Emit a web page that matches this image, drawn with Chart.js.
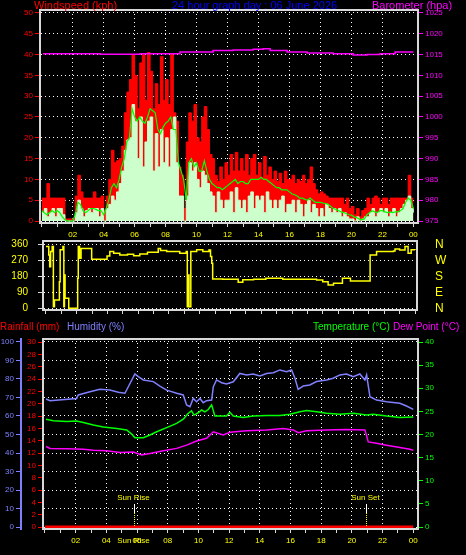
<!DOCTYPE html>
<html>
<head>
<meta charset="utf-8">
<title>24 hour graph</title>
<script src="https://cdn.jsdelivr.net/npm/chart.js@4.4.1/dist/chart.umd.min.js"></script>
<style>
  html, body { margin: 0; padding: 0; background: #000; }
  body { width: 466px; height: 555px; position: relative; overflow: hidden; }
  canvas { position: absolute; left: 0; }
</style>
</head>
<body>
<canvas id="windChart" width="466" height="248" style="top:0"></canvas>
<canvas id="dirChart" width="466" height="82" style="top:236px"></canvas>
<canvas id="climateChart" width="466" height="237" style="top:318px"></canvas>
<script>
/**
 * 24 hour weather graph
 *
 * Three stacked panels: wind + barometer, wind direction,
 * and rainfall / humidity / temperature / dew point.
 */

// ---- data ----------------------------------------------------------------

const hourTicks = [0, 1, 2, 3, 4, 5, 6, 7, 8, 9, 10, 11, 12, 13, 14, 15, 16, 17, 18, 19, 20, 21, 22, 23, 24];
const windTicks = [0, 5, 10, 15, 20, 25, 30, 35, 40, 45, 50];
const baroTicks = [975, 980, 985, 990, 995, 1000, 1005, 1010, 1015, 1020, 1025];
const dirTicks = [0, 90, 180, 270, 360];
const compassLabels = ['N', 'E', 'S', 'W', 'N'];
const rainTicks = [0, 2, 4, 6, 8, 10, 12, 14, 16, 18, 20, 22, 24, 26, 28, 30];
const humTicks = [0, 10, 20, 30, 40, 50, 60, 70, 80, 90, 100];
const tempTicks = [0, 5, 10, 15, 20, 25, 30, 35, 40];

// wind, one reading every 10 minutes from 00:00 to 24:00 (kph)
const windGust = [
  5.5, 5.5, 9, 5.5, 5.5, 5.5,   5.5, 5.5, 5.5, 0.5, 0.5, 0.5,
  0.5, 6, 11, 7, 5.5, 5.5,      5.5, 5.5, 7, 5.5, 5.5, 6,
  2.5, 6, 10, 17, 14, 14.5,     15, 18, 26, 31, 34, 40,
  35, 27, 38, 40, 29, 40.5,     36, 27, 33, 28, 39.5, 29,
  34, 28, 40, 26, 24, 13,       11, 3, 19, 26, 24, 28,
  20, 19, 25, 27.5, 22, 16,     15, 11, 9.5, 13, 10, 14,
  11, 16, 12, 16.5, 12, 15,     12, 16, 11, 15, 16, 11,
  14, 10.5, 15.5, 11, 13, 10,   12, 9.5, 11.5, 9, 12, 10,
  10, 11, 9, 10, 9.5, 11,       9, 10, 13, 9, 7.5, 6.5,
  7, 6.5, 6, 5.5, 5.5, 5.5,     5.5, 5.5, 5.5, 4, 5.5, 3,
  3.5, 1.5, 3, 1, 2.5, 3,       5.5, 4, 5.5, 6, 5.5, 4,
  5.5, 5.5, 4, 5.5, 5.5, 5.5,   5.5, 5.5, 5.5, 5.5, 11, 5.5,
  5.5
];
const windSpeed = [
  2, 3, 1, 2, 3, 1,             3, 3, 1.5, 0, 0, 0,
  0, 2, 5, 3, 1, 2.5,           3, 2, 3, 3, 1, 3,
  0, 3, 4, 6, 5, 7,             9, 12, 17, 19.5, 20, 28,
  24, 15, 25, 13, 19, 24,       25, 12, 21, 13, 22, 14,
  20, 13, 22, 25, 14, 6,        6, 0, 6, 14, 12, 14,
  10, 8, 12, 11, 9, 7,          6, 2, 7, 5, 3, 5,
  5, 7, 2, 8, 5, 3,             5, 2, 6, 7, 3, 6,
  5, 6, 2, 7, 5, 3,             5, 3, 5, 6, 2, 4,
  4, 5, 2, 5, 4, 1,             4, 5, 2, 4, 3, 1,
  3, 1, 4, 3, 2, 3,             2, 3, 1, 2, 1, 0.5,
  0.5, 0, 1, 0, 0.5, 1,         1, 2, 3, 1, 2, 3,
  2, 3, 1, 2, 3, 1,             2, 3, 4, 5, 6, 3,
  2
];
const windAverage = [
  2.5, 2, 1.5, 2, 2.5, 2,       2.5, 2, 1, 0.3, 0, 0,
  0, 1.5, 4.5, 4, 2.5, 2,       2.5, 3, 3, 2.8, 2.5, 2.5,
  1.5, 3, 5, 8, 9, 8,           10, 13, 15, 19, 20, 27,
  25, 24, 25, 24, 23.5, 25,     27, 26.5, 26, 22, 21, 22.5,
  23.5, 24, 25, 22, 22, 14,     12, 10, 5, 14, 15, 13,
  14, 12, 12, 14.5, 12, 10,     9, 8.5, 8, 8, 7.5, 8,
  8.5, 9, 9.5, 10, 9, 9.5,      9.5, 9, 9, 10, 10, 10,
  10, 10.5, 10, 10, 9.5, 9,     8.5, 8, 8, 7.5, 7.5, 7.5,
  7, 6.5, 6.3, 6, 5.5, 5.5,     5.2, 5, 5.5, 5, 4.5, 4.5,
  4.5, 4.3, 4.2, 4, 3.5, 3,     2.8, 2.5, 2.2, 2, 1.8, 1.5,
  1.4, 1, 0.8, 0.5, 0.3, 0.5,   1.5, 2, 2.5, 2.2, 2, 2.5,
  2.5, 2.2, 2, 2.2, 2, 2.2,     2.2, 2.5, 3, 4.5, 5.5, 5,
  3
];
const windHours = windGust.map((_, i) => i / 6);

const baroHours = [0.08, 3.77, 6.35, 8.93, 10.23, 11.07, 12.36, 13.65, 14.3, 14.75, 15.85, 17.14, 18.82, 20.11, 21.01, 21.85, 22.82, 24];
const baroValues = [1015.2, 1015.1, 1015.2, 1015.6, 1015.6, 1016.0, 1016.1, 1016.3, 1016.4, 1016.0, 1015.6, 1015.4, 1015.2, 1014.9, 1015.0, 1015.2, 1015.6, 1015.6];

const dirHours = [0, 0.18, 0.24, 0.3, 0.4, 0.48, 0.55, 0.87, 0.92, 1.1, 1.16, 1.2, 1.24, 1.48, 2.06, 2.1, 2.18, 2.28, 2.97, 3.97,
  4.15, 4.4, 4.8, 5.3, 5.7, 6.1, 6.6, 7.3, 7.45, 7.85, 8.3, 8.7, 9.12, 9.19, 9.24, 9.3, 9.42, 9.8, 10.2, 10.6,
  10.7, 10.78, 10.84, 11.5, 12.5, 12.8, 13.5, 14.3, 15.4, 16.5, 17.6, 18.0, 18.35, 18.7, 19.2, 19.28, 19.8, 21.08, 21.5, 22.6,
  22.7, 23.0, 23.35, 23.55, 23.75, 24];
const dirDegrees = [347, 300, 234, 319, 347, 9, 47, 150, 330, 347, 9, 188, 56, 0, 169, 347, 281, 337, 276, 294,
  319, 310, 300, 304, 296, 306, 315, 337, 325, 319, 319, 309, 319, 9, 188, 9, 319, 330, 319, 328,
  291, 253, 165, 163, 146, 160, 163, 169, 163, 163, 159, 150, 131, 141, 141, 169, 154, 300, 319, 322,
  334, 328, 347, 309, 330, 328];

const rainHours = [0, 24];
const rainfall = [0, 0];

const humHours = [0.07, 0.33, 2.06, 2.17, 2.93, 3.58, 4.23, 4.78, 5.21, 5.43, 5.86, 6.08, 6.41, 7.06, 7.49,
  7.93, 8.58, 9.01, 9.23, 9.45, 9.66, 9.88, 10.1, 10.31, 10.53, 10.86, 10.97, 11.18, 11.51, 11.83,
  12.27, 12.7, 13.14, 13.57, 14.01, 14.44, 14.88, 15.31, 15.74, 16.07, 16.29, 16.5, 16.83, 17.26, 17.7,
  18.35, 18.78, 19.22, 19.65, 20.09, 20.52, 20.85, 20.96, 21.18, 21.61, 22.26, 23.13, 23.56, 24];
const humidity = [69.2, 68.3, 69.5, 71.4, 73.1, 74.4, 74, 72.8, 72.3, 75.8, 82.7, 81.3, 79.5, 78.6, 76.2,
  74, 72.3, 71.4, 66, 65, 69.5, 67.7, 69.5, 67.2, 68.3, 68.6, 75.8, 79.5, 78, 77.3,
  78.5, 83, 82.2, 82.7, 81.6, 83, 83.4, 84.9, 83.9, 84.9, 80.4, 74.4, 76.2, 76.8, 78.6,
  79.5, 80.4, 82.2, 82.7, 81.3, 82.7, 79.5, 82.2, 70.4, 68.6, 67.7, 66.9, 65.4, 63.6];

const tempHours = [0.07, 0.54, 1.41, 2.06, 2.5, 3.15, 3.8, 4.67, 5.32, 5.65, 5.86, 6.41, 6.84, 7.28, 7.93,
  8.58, 9.01, 9.34, 9.55, 9.71, 9.99, 10.21, 10.42, 10.64, 10.86, 11.07, 11.83, 12.05, 12.27, 12.92,
  13.57, 14.44, 15.31, 15.96, 16.61, 17.05, 17.7, 18.35, 19.22, 20.09, 20.96, 21.39, 22.26, 23.13, 24];
const temperature = [23.3, 23.0, 22.8, 22.9, 22.6, 22.05, 21.6, 21.3, 21.0, 20.1, 19.3, 19.3, 19.9, 20.6, 21.5,
  22.4, 23.3, 24.6, 25.1, 24.2, 24.7, 25.3, 24.9, 25.4, 26.4, 24.0, 24.0, 24.8, 24.0, 23.7,
  24.0, 24.1, 24.1, 24.4, 24.9, 25.2, 24.9, 24.6, 24.4, 24.6, 24.2, 24.4, 24.0, 23.7, 23.8];

const dewHours = [0.07, 0.33, 1.41, 2.5, 3.15, 4.02, 4.89, 5.75, 6.3, 6.84, 7.71, 8.58, 9.23, 9.88, 10.53,
  10.97, 11.62, 12.05, 13.14, 14.44, 15.53, 16.18, 16.5, 17.05, 18.35, 19.65, 20.85, 21.07, 21.61, 22.26,
  23.13, 23.78, 24];
const dewPoint = [17.4, 17.0, 16.9, 16.8, 16.6, 16.5, 16.1, 16.2, 15.6, 15.9, 16.5, 17.0, 17.7, 18.6, 19.2,
  20.6, 19.9, 20.5, 20.8, 21.0, 21.3, 21.0, 20.4, 20.8, 21.0, 21.1, 21.0, 18.4, 18.1, 17.7,
  17.2, 16.8, 16.6];

const sunLabels = ['Sun Rise', 'Sun Set'];
const sunHours = [5.82, 20.9];

// ---- styling -------------------------------------------------------------

const RED = '#ff0000';
const MAGENTA = '#ff00ff';
const YELLOW = '#ffff00';
const GREEN = '#00ff00';
const HUM_BLUE = '#8080ff';
const TITLE_BLUE = '#0000ff';
const PALE_GREEN = '#ccffcc';
const FRAME = '#d8d8d8';
const GRID = '#ffffff';
const DOTS = [1, 3];

Chart.defaults.font.family = '"Liberation Sans", Arial, sans-serif';
Chart.defaults.font.size = 8;
Chart.defaults.animation = false;
Chart.defaults.plugins.legend.display = false;
Chart.defaults.plugins.tooltip.enabled = false;

// ---- helpers -------------------------------------------------------------

function toPoints(xs, ys) {
  return xs.map((x, i) => ({ x: x, y: ys[i] }));
}

function fixedTicks(values) {
  return scale => { scale.ticks = values.map(v => ({ value: v })); };
}

function formatHour(value) {
  if (value % 2 !== 0 || value === 0) return '';
  return String(value % 24).padStart(2, '0');
}

function isGridHour(ctx) {
  const v = ctx.tick ? ctx.tick.value : 0;
  return v % 2 === 0 && v > 0 && v < 24;
}

/**
 * Hour axis shared by the panels.
 */
function hourAxis(min, max, height, showLabels, showGrid) {
  return {
    type: 'linear',
    min: min,
    max: max,
    afterBuildTicks: fixedTicks(hourTicks),
    afterFit: scale => {
      scale.height = height;
      scale.paddingLeft = 0;
      scale.paddingRight = 0;
    },
    ticks: {
      display: showLabels,
      color: YELLOW,
      font: { size: 8 },
      padding: 3,
      autoSkip: false,
      maxRotation: 0,
      callback: formatHour
    },
    grid: {
      drawOnChartArea: showGrid,
      color: ctx => isGridHour(ctx) ? GRID : 'transparent',
      tickColor: FRAME,
      tickLength: 4
    },
    border: { display: false, dash: DOTS }
  };
}

/**
 * Value axis with fixed width and explicit tick list.
 * Paddings are cleared so the label padding does not shrink the plot.
 */
function valueAxis(position, min, max, ticks, width, color, options = {}) {
  return {
    type: 'linear',
    position: position,
    min: min,
    max: max,
    afterBuildTicks: fixedTicks(ticks),
    afterFit: scale => {
      scale.width = width;
      scale.paddingTop = 0;
      scale.paddingBottom = 0;
    },
    ticks: {
      color: color,
      font: { size: options.fontSize || 8 },
      padding: options.padding !== undefined ? options.padding : 2,
      autoSkip: false,
      callback: options.callback
    },
    grid: {
      drawOnChartArea: !!options.grid,
      drawTicks: options.drawTicks !== false,
      color: GRID,
      tickColor: options.tickColor || color,
      tickLength: 5
    },
    border: { color: options.borderColor || color, width: options.borderWidth || 1, dash: DOTS }
  };
}

const framePlugin = {
  id: 'frame',
  afterDraw(chart) {
    const { ctx, chartArea: a } = chart;
    ctx.save();
    ctx.strokeStyle = FRAME;
    ctx.lineWidth = 2;
    ctx.strokeRect(a.left, a.top, a.right - a.left, a.bottom - a.top);
    ctx.restore();
  }
};

function textPlugin(id, items, y, size) {
  return {
    id: id,
    afterDraw(chart) {
      const ctx = chart.ctx;
      ctx.save();
      ctx.font = size + 'px "Liberation Sans", Arial, sans-serif';
      ctx.textBaseline = 'middle';
      ctx.textAlign = 'left';
      items.forEach(item => {
        ctx.fillStyle = item.color;
        ctx.fillText(item.text, item.x, y);
      });
      ctx.restore();
    }
  };
}

const sunPlugin = {
  id: 'sunMarks',
  afterDatasetsDraw(chart) {
    const { ctx, chartArea: a, scales: { x } } = chart;
    ctx.save();
    ctx.font = '8px "Liberation Sans", Arial, sans-serif';
    ctx.textAlign = 'center';
    ctx.textBaseline = 'middle';
    sunHours.forEach((hour, i) => {
      const px = Math.round(x.getPixelForValue(hour)) + 0.5;
      ctx.strokeStyle = GRID;
      ctx.lineWidth = 1;
      ctx.setLineDash([]);
      ctx.beginPath();
      ctx.moveTo(px, a.bottom - 25);
      ctx.lineTo(px, a.bottom - 16);
      ctx.stroke();
      ctx.strokeStyle = YELLOW;
      ctx.setLineDash([1, 1]);
      ctx.beginPath();
      ctx.moveTo(px, a.bottom - 16);
      ctx.lineTo(px, a.bottom - 2);
      ctx.stroke();
      ctx.fillStyle = YELLOW;
      ctx.fillText(sunLabels[i], px - 1, a.bottom - 31);
      if (i === 0) {
        ctx.fillText(sunLabels[i], px - 1, a.bottom + 12);
      }
    });
    ctx.restore();
  }
};

// ---- panel 1: wind speed and barometer ------------------------------------

new Chart(document.getElementById('windChart'), {
  type: 'line',
  data: {
    datasets: [
      {
        label: 'Barometer',
        data: toPoints(baroHours, baroValues),
        yAxisID: 'yBaro',
        borderColor: MAGENTA,
        borderWidth: 1.5,
        pointRadius: 0,
        stepped: true,
        order: 0
      },
      {
        label: 'Average',
        data: toPoints(windHours, windAverage),
        yAxisID: 'yWind',
        borderColor: GREEN,
        borderWidth: 1.2,
        pointRadius: 0,
        order: 1
      },
      {
        label: 'Wind',
        data: toPoints(windHours, windSpeed),
        yAxisID: 'yWind',
        borderColor: PALE_GREEN,
        backgroundColor: PALE_GREEN,
        borderWidth: 1,
        pointRadius: 0,
        stepped: true,
        fill: 'origin',
        order: 2
      },
      {
        label: 'Gust',
        data: toPoints(windHours, windGust),
        yAxisID: 'yWind',
        borderColor: RED,
        backgroundColor: RED,
        borderWidth: 1,
        pointRadius: 0,
        stepped: true,
        fill: 'origin',
        order: 3
      }
    ]
  },
  options: {
    responsive: false,
    layout: { padding: { top: 10, left: 0, right: 0, bottom: 0 } },
    scales: {
      x: hourAxis(-0.11, 24.3, 25, true, true),
      yWind: valueAxis('left', -0.48, 50.72, windTicks, 40, RED, { grid: true }),
      yBaro: valueAxis('right', 974.52, 1025.72, baroTicks, 48, MAGENTA)
    }
  },
  plugins: [
    framePlugin,
    textPlugin('windTitles', [
      { text: 'Windspeed (kph)', x: 34, color: RED },
      { text: '24 hour graph day : 06 June 2026', x: 172, color: TITLE_BLUE },
      { text: 'Barometer (hpa)', x: 372, color: MAGENTA }
    ], 6, 11)
  ]
});

// ---- panel 2: wind direction --------------------------------------------

new Chart(document.getElementById('dirChart'), {
  type: 'line',
  data: {
    datasets: [
      {
        label: 'Direction',
        data: toPoints(dirHours, dirDegrees),
        yAxisID: 'yDir',
        borderColor: YELLOW,
        borderWidth: 1.5,
        pointRadius: 0,
        stepped: true
      }
    ]
  },
  options: {
    responsive: false,
    layout: { padding: { top: 5, left: 0, right: 0, bottom: 0 } },
    scales: {
      x: hourAxis(-0.195, 24.13, 8, false, false),
      yDir: valueAxis('left', -9.6, 378.6, dirTicks, 43, YELLOW, {
        grid: true, fontSize: 10, padding: 10, tickColor: FRAME, borderColor: FRAME
      }),
      yCompass: valueAxis('right', -9.6, 378.6, dirTicks, 49, YELLOW, {
        fontSize: 12, padding: 18, drawTicks: false, borderColor: FRAME,
        callback: (value, index) => compassLabels[index]
      })
    }
  },
  plugins: [framePlugin]
});

// ---- panel 3: rainfall, humidity, temperature, dew point -----------------

new Chart(document.getElementById('climateChart'), {
  type: 'line',
  data: {
    datasets: [
      {
        label: 'Rainfall',
        data: toPoints(rainHours, rainfall),
        yAxisID: 'yRain',
        borderColor: RED,
        borderWidth: 3,
        pointRadius: 0
      },
      {
        label: 'Humidity',
        data: toPoints(humHours, humidity),
        yAxisID: 'yHum',
        borderColor: HUM_BLUE,
        borderWidth: 1.5,
        pointRadius: 0
      },
      {
        label: 'Temperature',
        data: toPoints(tempHours, temperature),
        yAxisID: 'yTemp',
        borderColor: GREEN,
        borderWidth: 1.5,
        pointRadius: 0
      },
      {
        label: 'Dew Point',
        data: toPoints(dewHours, dewPoint),
        yAxisID: 'yTemp',
        borderColor: MAGENTA,
        borderWidth: 1.5,
        pointRadius: 0
      }
    ]
  },
  options: {
    responsive: false,
    layout: { padding: { top: 21, left: 0, right: 0, bottom: 0 } },
    scales: {
      x: hourAxis(-0.13, 24.31, 26, true, true),
      yRain: valueAxis('left', -0.32, 30.49, rainTicks, 22, RED),
      yHum: valueAxis('left', -1.08, 101.62, humTicks, 21, HUM_BLUE, { grid: true, borderWidth: 2 }),
      yTemp: valueAxis('right', -0.43, 40.65, tempTicks, 48, GREEN)
    }
  },
  plugins: [
    framePlugin,
    sunPlugin,
    textPlugin('climateTitles', [
      { text: 'Rainfall (mm)', x: 0, color: RED },
      { text: 'Humidity (%)', x: 67, color: HUM_BLUE },
      { text: 'Temperature (°C)', x: 313, color: GREEN },
      { text: 'Dew Point (°C)', x: 393, color: MAGENTA }
    ], 9, 10)
  ]
});
</script>
</body>
</html>
